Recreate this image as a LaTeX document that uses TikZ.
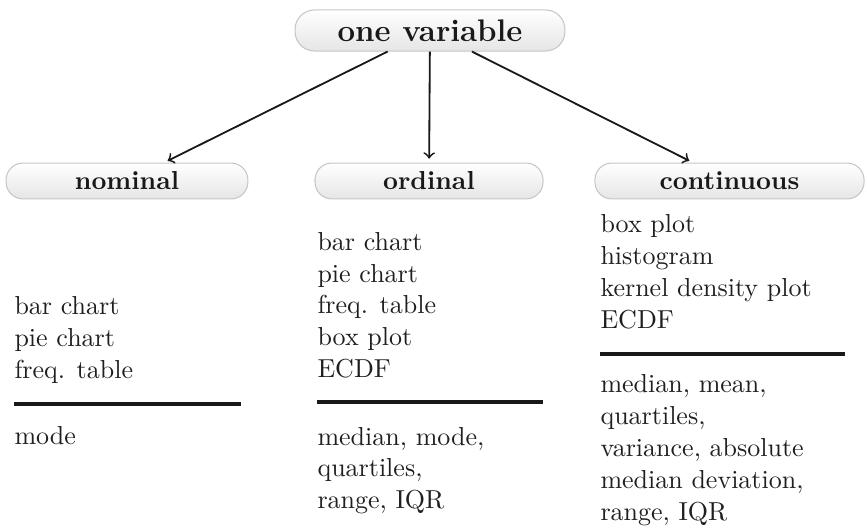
\documentclass[tikz,border=0pt]{standalone}
\begin{document}
\begin{tikzpicture}[x=0.3846pt,y=-0.3846pt,
  catbox/.style={draw=gray!45, line width=0.4pt, rounded corners=6.5pt, top color=white, bottom color=gray!20,
    font=\bfseries, text=black!90, minimum height=13.8pt, inner sep=0pt},
  titlebox/.style={catbox, font=\large\bfseries, minimum height=15.8pt, minimum width=103.8pt, rounded corners=7.5pt},
  item/.style={anchor=base west, inner sep=0pt, text=black!88, font=\fontsize{10}{12}\selectfont},
  link/.style={->, line width=0.7pt, black!90, shorten >=1.5pt},
  sep/.style={line width=1.2pt, black!90}]
\useasboundingbox (0,0) rectangle (867,529);

\node[titlebox] (title) at (430,30.5) {one variable};
\node[catbox, minimum width=93pt] (nom) at (127,181) {nominal};
\node[catbox, minimum width=87.7pt] (ord) at (429,181) {ordinal};
\node[catbox, minimum width=103.5pt] (con) at (729.5,181) {continuous};

\draw[link] (title) -- (nom);
\draw[link] (title) -- (ord);
\draw[link] (title) -- (con);

% nominal
\foreach \t [count=\i] in {bar chart, pie chart, freq. table}
  \node[item] (nomA\i) at (14,{315+31.5*(\i-1)}) {\t};
\draw[sep] (14,404) -- (241,404);
\node[item] (nomB1) at (14,444) {mode};

% ordinal
\foreach \t [count=\i] in {bar chart, pie chart, freq. table, box plot, ECDF}
  \node[item] (ordA\i) at (317,{251+31.5*(\i-1)}) {\t};
\draw[sep] (317,402) -- (543,402);
\foreach \t [count=\i] in {{median, mode,}, {quartiles,}, {range, IQR}}
  \node[item] (ordB\i) at (317,{445+31.5*(\i-1)}) {\t};

% continuous
\foreach \t [count=\i] in {box plot, histogram, kernel density plot, ECDF}
  \node[item] (conA\i) at (600,{233+31.7*(\i-1)}) {\t};
\draw[sep] (600,354) -- (845,354);
\foreach \t [count=\i] in {{median, mean,}, {quartiles,}, {variance, absolute}, {median deviation,}, {range, IQR}}
  \node[item] (conB\i) at (600,{392+32*(\i-1)}) {\t};
\end{tikzpicture}
\end{document}
